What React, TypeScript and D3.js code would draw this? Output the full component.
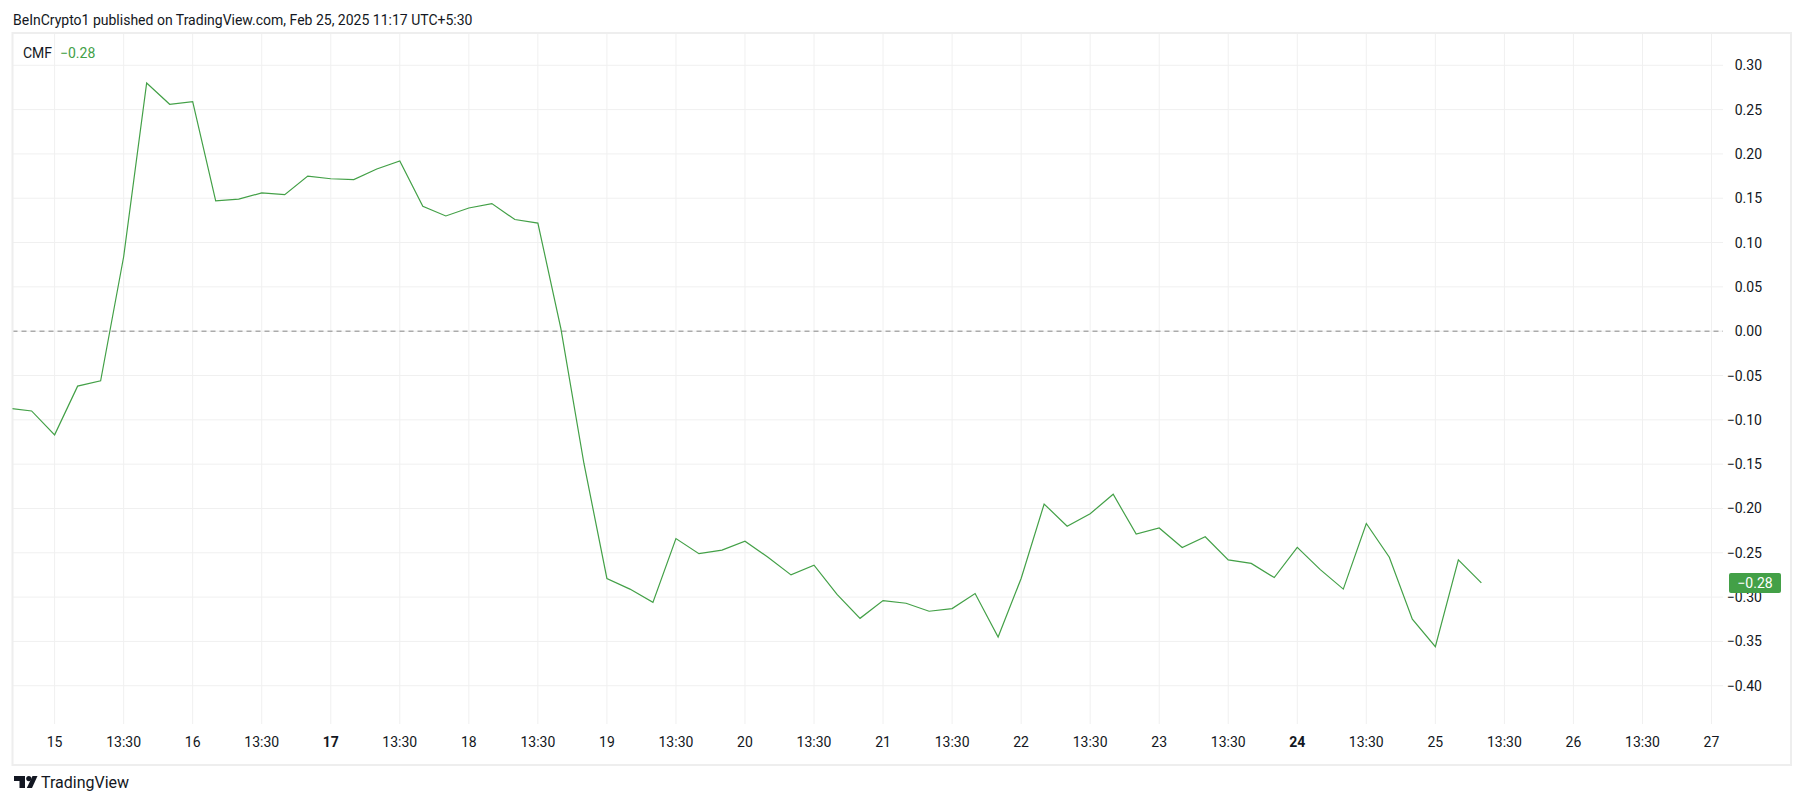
import React from 'react';
import * as d3 from 'd3';

// CMF, 4h bars, first value is Feb 14 17:30 (UTC+5:30)
const firstBar = -2;
const cmfValues = [
  -0.087, -0.09, -0.117, -0.062, -0.056, 0.084, 0.28, 0.256, 0.259, 0.147,
  0.149, 0.156, 0.154, 0.175, 0.172, 0.171, 0.183, 0.192, 0.141, 0.13,
  0.139, 0.144, 0.126, 0.122, 0.003, -0.149, -0.279, -0.291, -0.306, -0.234,
  -0.251, -0.247, -0.237, -0.255, -0.275, -0.264, -0.297, -0.324, -0.304, -0.307,
  -0.316, -0.313, -0.296, -0.345, -0.279, -0.195, -0.22, -0.206, -0.184, -0.229,
  -0.222, -0.244, -0.232, -0.258, -0.262, -0.278, -0.244, -0.269, -0.291, -0.217,
  -0.255, -0.325, -0.356, -0.258, -0.284,
];

const timeLabels = [
  '15', '13:30', '16', '13:30', '17', '13:30', '18', '13:30', '19', '13:30',
  '20', '13:30', '21', '13:30', '22', '13:30', '23', '13:30', '24', '13:30',
  '25', '13:30', '26', '13:30', '27',
];
const boldLabels = ['17', '24'];
const barsPerLabel = 3;

const priceTicks = [0.3, 0.25, 0.2, 0.15, 0.1, 0.05, 0, -0.05, -0.1, -0.15, -0.2, -0.25, -0.3, -0.35, -0.4];

const W = 1805;
const H = 803;
const plot = { left: 12.5, right: 1723, top: 33, bottom: 724 };
const pane = { left: 12.5, right: 1791, top: 33, bottom: 765 };

const GREEN = '#43a047';
const TEXT = '#131722';
const GRID = '#f0f0f0';
const FONT = 'Roboto, "Noto Sans", sans-serif';

const fmt = (v: number) => (v < -1e-9 ? '\u2212' : '') + Math.abs(v).toFixed(2);

export default function App() {
  const x = d3.scaleLinear().domain([-1.83, 72.5]).range([plot.left, plot.right]);
  const y = d3.scaleLinear().domain([-0.4, 0.3]).range([685.7, 65.3]);

  const points = cmfValues.map((v, i) => ({ bar: firstBar + i, v }));
  const line = d3.line<{ bar: number; v: number }>()
    .x(d => x(d.bar))
    .y(d => y(d.v));

  const last = cmfValues[cmfValues.length - 1];
  const lastY = y(last);

  return (
    <svg width={W} height={H} style={{ position: 'absolute', left: 0, top: 0, background: '#fff' }} fontFamily={FONT}>
      <defs>
        <clipPath id="plotClip">
          <rect x={plot.left} y={plot.top} width={plot.right - plot.left} height={plot.bottom - plot.top} />
        </clipPath>
      </defs>

      <text x={13} y={25} fontSize={14} fill={TEXT}>
        BeInCrypto1 published on TradingView.com, Feb 25, 2025 11:17 UTC+5:30
      </text>

      {/* grid */}
      <g stroke={GRID} strokeWidth={1}>
        {priceTicks.map(t => (
          <line key={'h' + t} x1={plot.left} x2={plot.right} y1={y(t)} y2={y(t)} />
        ))}
        {timeLabels.map((l, i) => (
          <line key={'v' + i} x1={x(i * barsPerLabel)} x2={x(i * barsPerLabel)} y1={plot.top} y2={plot.bottom} />
        ))}
      </g>

      {/* zero line */}
      <line x1={plot.left} x2={plot.right} y1={y(0)} y2={y(0)} stroke="#888" strokeWidth={1} strokeDasharray="5,4" />

      {/* pane border */}
      <rect x={pane.left} y={pane.top} width={pane.right - pane.left} height={pane.bottom - pane.top}
        fill="none" stroke="#eeeeee" strokeWidth={2} />

      <path d={line(points) || ''} fill="none" stroke={GREEN} strokeWidth={1.2} clipPath="url(#plotClip)" />

      {/* legend */}
      <text x={23} y={58} fontSize={14} fill={TEXT}>CMF</text>
      <text x={60} y={58} fontSize={14} fill={GREEN}>{fmt(Math.round(last * 100) / 100)}</text>

      {/* price axis */}
      {priceTicks.map(t => (
        <text key={'p' + t} x={1762} y={y(t) + 5} fontSize={14} fill={TEXT} textAnchor="end">{fmt(t)}</text>
      ))}
      <rect x={1729} y={lastY - 10} width={52} height={20} rx={2} fill={GREEN} />
      <text x={1755} y={lastY + 5} fontSize={14} fill="#fff" textAnchor="middle">{fmt(Math.round(last * 100) / 100)}</text>

      {/* time axis */}
      {timeLabels.map((l, i) => (
        <text key={'t' + i} x={x(i * barsPerLabel)} y={747} fontSize={14} fill={TEXT} textAnchor="middle"
          fontWeight={boldLabels.includes(l) ? 700 : 400}>{l}</text>
      ))}

      {/* logo */}
      <g fill={TEXT}>
        <path d="M14 776 h11 v12 h-5.5 v-7 h-5.5 z" />
        <circle cx={28.8} cy={778.6} r={2.6} />
        <path d="M32.5 776 h5 l-5.5 12 h-5.2 z" />
      </g>
      <text x={41} y={788} fontSize={16} fill={TEXT}>TradingView</text>
    </svg>
  );
}
